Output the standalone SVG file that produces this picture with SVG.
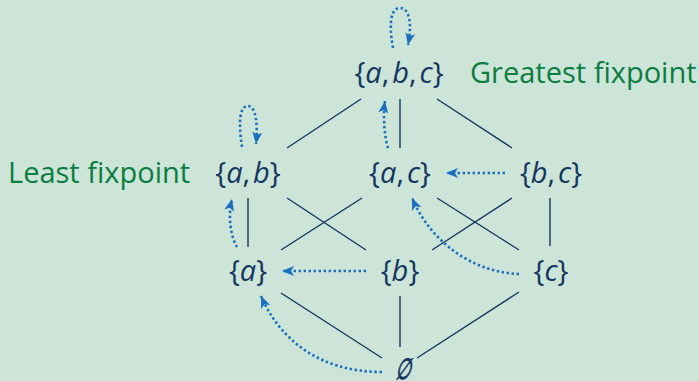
<svg xmlns="http://www.w3.org/2000/svg" width="699" height="381" viewBox="0 0 699 381">
<style>
.node{font-family:"Open Sans","Noto Sans",sans-serif;font-size:29px;fill:#15365f;text-anchor:middle}
.i{font-style:italic}
.lbl{font-family:"Open Sans","Noto Sans",sans-serif;font-size:29px;fill:#0a7d40}
.edge{stroke:#15365f;stroke-width:1.4;fill:none}
.arr{stroke:#1a6ebf;stroke-width:2.6;fill:none;stroke-dasharray:2.4 2.6;marker-end:url(#ah)}
</style>
<defs>
<marker id="ah" markerUnits="userSpaceOnUse" viewBox="0 0 12 10" refX="12" refY="5" markerWidth="12" markerHeight="10" orient="auto">
<path d="M0,0 L12,5 L0,10 L3,5 Z" fill="#1a6ebf"/>
</marker>
</defs>
<rect width="699" height="381" fill="#cce5d8"/>
<g id="connectors">
<line class="edge" x1="361" y1="99" x2="287" y2="148"/>
<line class="edge" x1="400" y1="99" x2="400" y2="148"/>
<line class="edge" x1="437" y1="99" x2="512" y2="148"/>
<line class="edge" x1="248" y1="198" x2="248" y2="247"/>
<line class="edge" x1="287" y1="198" x2="366" y2="250"/>
<line class="edge" x1="281" y1="250" x2="362" y2="198"/>
<line class="edge" x1="437" y1="198" x2="519" y2="250"/>
<line class="edge" x1="432" y1="250" x2="512" y2="198"/>
<line class="edge" x1="550" y1="198" x2="550" y2="246"/>
<line class="edge" x1="281" y1="293" x2="382" y2="358"/>
<line class="edge" x1="400" y1="296" x2="400" y2="347"/>
<line class="edge" x1="519" y1="292" x2="417" y2="358"/>
<path class="arr" d="M393,48 C388,20 392,8 400,8 C410,8 412,25 408,45"/>
<path class="arr" d="M242,147 C238,120 240,106 248,106 C256,106 258,125 256,144"/>
<path class="arr" d="M237,247 C230,235 228,215 232,199"/>
<path class="arr" d="M388,148 C384,135 383,115 385,101"/>
<path class="arr" d="M505,173 L446,173"/>
<path class="arr" d="M366,271 L282,271"/>
<path class="arr" d="M519,274 C470,272 430,240 412,198"/>
<path class="arr" d="M382,372 C320,372 280,340 261,296"/>
</g>
<g id="n-abc"><text class="node" x="399" y="83">{<tspan class="i">a</tspan>,<tspan class="i" dx="3">b</tspan>,<tspan class="i" dx="3">c</tspan>}</text></g>
<g id="n-ab"><text class="node" x="248" y="183">{<tspan class="i">a</tspan>,<tspan class="i" dx="3">b</tspan>}</text></g>
<g id="n-ac"><text class="node" x="400" y="183">{<tspan class="i">a</tspan>,<tspan class="i" dx="3">c</tspan>}</text></g>
<g id="n-bc"><text class="node" x="551" y="183">{<tspan class="i">b</tspan>,<tspan class="i" dx="3">c</tspan>}</text></g>
<g id="n-a"><text class="node" x="248" y="281">{<tspan class="i">a</tspan>}</text></g>
<g id="n-b"><text class="node" x="400" y="281">{<tspan class="i">b</tspan>}</text></g>
<g id="n-c"><text class="node" x="551" y="281">{<tspan class="i">c</tspan>}</text></g>
<g id="n-empty"><text class="node" stroke="#15365f" stroke-width="1" transform="translate(402,379) skewX(-14) scale(0.6,1)" x="0" y="0">∅</text></g>
<g id="label-greatest"><text class="lbl" x="470" y="83">Greatest fixpoint</text></g>
<g id="label-least"><text class="lbl" x="8" y="183">Least fixpoint</text></g>
</svg>
